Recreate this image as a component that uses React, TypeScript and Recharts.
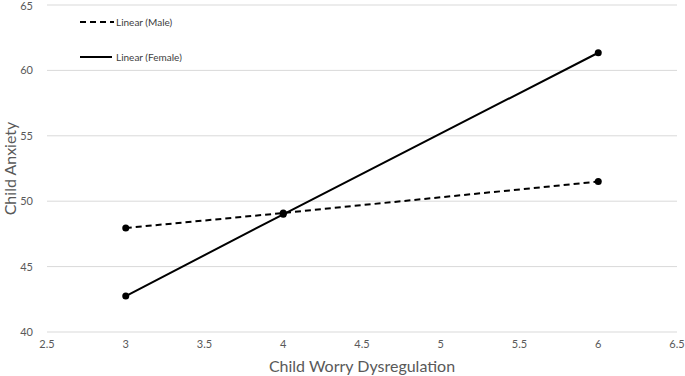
import React from 'react';
import { LineChart, Line, XAxis, YAxis, CartesianGrid } from 'recharts';

const worryLevels = [3, 4, 6];
const maleAnxiety = [47.95, 49.1, 51.5];
const femaleAnxiety = [42.75, 49.0, 61.35];
const xTicks = [2.5, 3, 3.5, 4, 4.5, 5, 5.5, 6, 6.5];
const yTicks = [40, 45, 50, 55, 60, 65];
const seriesNames = ['Linear (Male)', 'Linear (Female)'];

const data = worryLevels.map((x, i) => ({ x, male: maleAnxiety[i], female: femaleAnxiety[i] }));

const FONT = 'Lato, "Open Sans", sans-serif';

const LegendBox = () => (
  <svg width={130} height={50} style={{ position: 'absolute', left: 80, top: 12, display: 'block' }}>
    <line x1={0} y1={10} x2={34} y2={10} stroke="#000" strokeWidth={2} strokeDasharray="6 4" />
    <text x={36} y={14} fontSize={10} fill="#404040" fontFamily={FONT}>{seriesNames[0]}</text>
    <line x1={0} y1={45} x2={32} y2={45} stroke="#000" strokeWidth={2} />
    <text x={36} y={49} fontSize={10} fill="#404040" fontFamily={FONT}>{seriesNames[1]}</text>
  </svg>
);

export default function App() {
  return (
    <div style={{ position: 'absolute', left: 0, top: 0, width: 685, height: 376, background: '#fff' }}>
      <LineChart width={685} height={376} data={data} margin={{ top: 5, right: 8, left: 0, bottom: 0 }}>
        <CartesianGrid horizontal vertical={false} stroke="#d9d9d9" />
        <XAxis
          dataKey="x"
          type="number"
          domain={[2.5, 6.5]}
          ticks={xTicks}
          axisLine={false}
          tickLine={false}
          height={44}
          tick={{ fontSize: 11, fill: '#595959', fontFamily: FONT }}
          tickMargin={2}
          label={{ value: 'Child Worry Dysregulation', position: 'insideBottom', offset: 4, fontSize: 16, fill: '#595959', fontFamily: FONT }}
        />
        <YAxis
          type="number"
          domain={[40, 65]}
          ticks={yTicks}
          axisLine={false}
          tickLine={false}
          width={47}
          tick={{ fontSize: 11, fill: '#595959', fontFamily: FONT }}
          tickMargin={8}
          label={{ value: 'Child Anxiety', angle: -90, position: 'insideLeft', offset: 10, fontSize: 16, fill: '#595959', fontFamily: FONT, style: { textAnchor: 'middle' } }}
        />
        <Line
          dataKey="male"
          name={seriesNames[0]}
          stroke="#000"
          strokeWidth={2}
          strokeDasharray="6 4"
          dot={{ r: 3.5, fill: '#000', stroke: '#000', strokeWidth: 0 }}
          isAnimationActive={false}
        />
        <Line
          dataKey="female"
          name={seriesNames[1]}
          stroke="#000"
          strokeWidth={2}
          dot={{ r: 3.5, fill: '#000', stroke: '#000', strokeWidth: 0 }}
          isAnimationActive={false}
        />
      </LineChart>
      <LegendBox />
    </div>
  );
}
